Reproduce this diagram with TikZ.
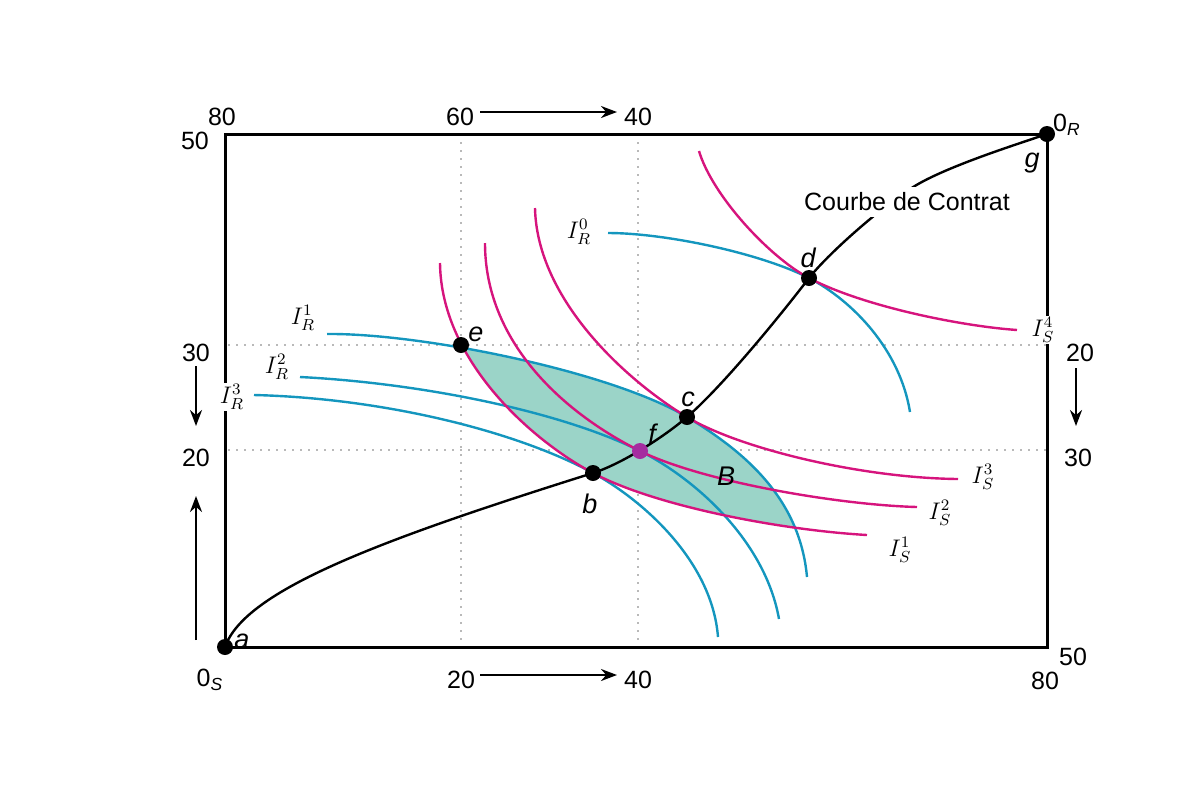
\documentclass[tikz,border=0pt]{standalone}
\usepackage{fontspec}
\setmainfont{Liberation Sans}
\usetikzlibrary{arrows.meta}
\definecolor{icmag}{RGB}{214,20,125}
\definecolor{icblue}{RGB}{20,150,190}
\definecolor{lensfill}{RGB}{155,212,200}
\definecolor{fpurple}{RGB}{165,45,160}
\definecolor{gridgray}{RGB}{185,185,185}
\tikzset{
  num/.style={font=\fontsize{12.5}{15}\selectfont, inner sep=0pt},
  ptlab/.style={font=\fontsize{13.5}{15}\selectfont\itshape, inner sep=0pt},
  mlab/.style={font=\fontsize{12}{14}\selectfont, inner sep=1pt},
  icS/.style={icmag, line width=1.2pt},
  icR/.style={icblue, line width=1.2pt},
  ptdot/.style={circle, fill=black, inner sep=0pt, minimum size=8pt},
  gridline/.style={gridgray, line width=0.8pt, dash pattern=on 1pt off 3pt},
  arr/.style={-{Stealth[length=8pt,width=6pt]}, line width=1.2pt}
}
\begin{document}
\begin{tikzpicture}[x=0.5pt,y=-0.5pt]
\useasboundingbox (0,0) rectangle (1200,800);

% grid
\draw[gridline] (461,134) -- (461,647);
\draw[gridline] (638,134) -- (638,647);
\draw[gridline] (228,345) -- (1047,345);
\draw[gridline] (228,450) -- (1047,450);

% lens between I_R^1 and I_S^1
\begin{scope}
  \clip (327,334) .. controls (420,333) and (610,371) .. (687,417)
        .. controls (747,453) and (800,500) .. (807,577)
        -- (807,700) -- (200,700) -- (200,334) -- cycle;
  \fill[lensfill] (440,263) .. controls (441,360) and (531,440) .. (593,473)
        .. controls (655,506) and (780,530) .. (867,535)
        -- (867,130) -- (440,130) -- cycle;
\end{scope}

% I_R curves (blue)
\draw[icR] (608,233) .. controls (665,233) and (760,253) .. (809,278)
           .. controls (853,301) and (900,350) .. (910,412);
\draw[icR] (327,334) .. controls (420,333) and (610,371) .. (687,417)
           .. controls (747,453) and (800,500) .. (807,577);
\draw[icR] (300,377) .. controls (420,383) and (560,411) .. (640,451)
           .. controls (694,478) and (765,540) .. (779,619);
\draw[icR] (254,395) .. controls (380,398) and (514,430) .. (593,473)
           .. controls (641,499) and (712,560) .. (718,637);

% I_S curves (magenta)
\draw[icS] (699,151) .. controls (712,195) and (769,257) .. (809,278)
           .. controls (862,306) and (960,326) .. (1017,330);
\draw[icS] (535,208) .. controls (537,300) and (627,381) .. (687,417)
           .. controls (738,448) and (860,478) .. (958,479);
\draw[icS] (485,243) .. controls (485,340) and (560,411) .. (640,451)
           .. controls (703,482) and (840,505) .. (917,507);
\draw[icS] (440,263) .. controls (441,360) and (531,440) .. (593,473)
           .. controls (655,506) and (780,530) .. (867,535);

% points
\coordinate (pa) at (225,647);
\coordinate (pb) at (593,473);
\coordinate (pf) at (640,451);
\coordinate (pc) at (687,417);
\coordinate (pd) at (809,278);
\coordinate (pe) at (461,345);
\coordinate (pk) at (920,183);
\coordinate (pg) at (1047,134);

% contract curve
\draw[line width=1.2pt] (pa) .. controls (245,590) and (380,540) .. (pb)
   .. controls (621.6,464) and (664.3,436.7) .. (pc)
   .. controls (724.8,384.25) and (784.7,309.8) .. (pd)
   .. controls (830.7,250.7) and (889.3,199.9) .. (pk)
   .. controls (955,163.7) and (1018.6,143.75) .. (pg);
\node[num, fill=white, inner sep=3pt] (cc) at (907,202) {Courbe de Contrat};

% box
\draw[line width=1.5pt] (225,134) rectangle (1047,647);

% dots
\node[ptdot] (a) at (pa) {};
\node[ptdot] (b) at (pb) {};
\node[ptdot, fill=fpurple] (f) at (pf) {};
\node[ptdot] (c) at (pc) {};
\node[ptdot] (d) at (pd) {};
\node[ptdot] (e) at (pe) {};
\node[ptdot] (g) at (pg) {};

% point labels
\node[ptlab] (la) at (242,641) {a};
\node[ptlab] (lb) at (590,504) {b};
\node[ptlab] (lc) at (688,399) {c};
\node[ptlab] (ld) at (808,258) {d};
\node[ptlab] (le) at (476,334) {e};
\node[ptlab] (lf) at (652,434) {f};
\node[ptlab] (lg) at (1032,163) {g};
\node[ptlab] (lB) at (726,476) {B};

% curve labels
\node[mlab] (R0) at (579,232) {$I_R^0$};
\node[mlab] (R1) at (303,318) {$I_R^1$};
\node[mlab] (R2) at (277,367) {$I_R^2$};
\node[mlab, fill=white] (R3) at (232,397) {$I_R^3$};
\node[mlab, fill=white] (S4) at (1043,330) {$I_S^4$};
\node[mlab] (S3) at (983,477) {$I_S^3$};
\node[mlab] (S2) at (940,513) {$I_S^2$};
\node[mlab] (S1) at (900,550) {$I_S^1$};

% axis numbers and arrows
\node[num] (t80) at (222,117) {80};
\node[num] (t60) at (460,117) {60};
\node[num] (t40) at (638,117) {40};
\coordinate (ta1) at (480,112);
\coordinate (ta2) at (617,112);
\draw[arr] (ta1) -- (ta2);
\node[num] (l50) at (195,141) {50};
\node[num] (l30) at (196,353) {30};
\node[num] (l20) at (196,458) {20};
\coordinate (la1) at (196,366);
\coordinate (la2) at (196,426);
\draw[arr] (la1) -- (la2);
\coordinate (lu1) at (196,640);
\coordinate (lu2) at (196,496);
\draw[arr] (lu1) -- (lu2);
\node[num] (r20) at (1080,353) {20};
\node[num] (r30) at (1078,458) {30};
\coordinate (ra1) at (1076,368);
\coordinate (ra2) at (1076,426);
\draw[arr] (ra1) -- (ra2);
\node[num] (r50) at (1073,657) {50};
\node[num] (r80) at (1045,681) {80};
\node[num] (b0S) at (210,680) {0\textsubscript{\textit{S}}};
\node[num] (b20) at (461,680) {20};
\node[num] (b40) at (638,680) {40};
\coordinate (ba1) at (480,675);
\coordinate (ba2) at (617,675);
\draw[arr] (ba1) -- (ba2);
\node[num] (t0R) at (1067,125) {0\textsubscript{\textit{R}}};
\end{tikzpicture}
\end{document}
